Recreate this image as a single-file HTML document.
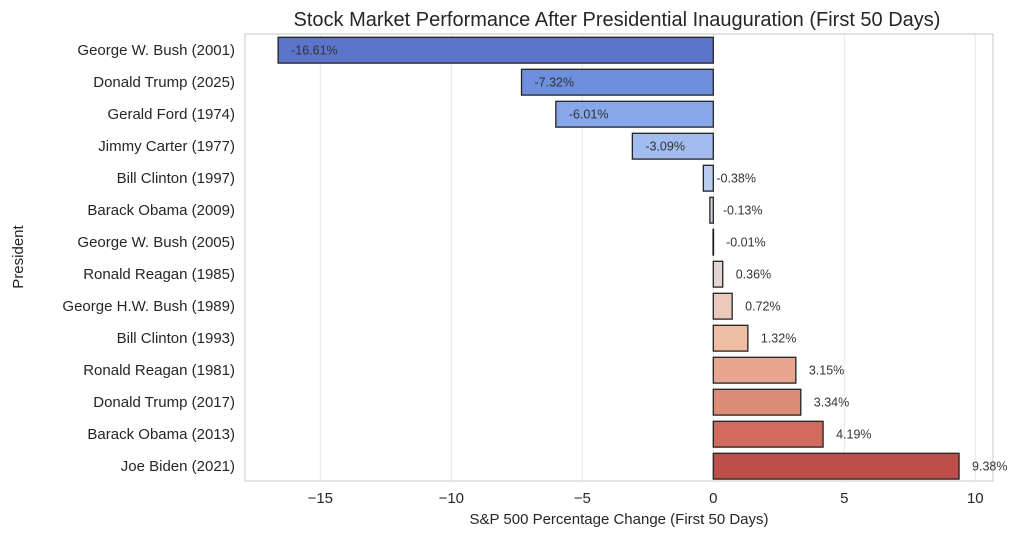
<!DOCTYPE html>
<html><head><meta charset="utf-8"><style>
body{margin:0;background:#fff;}
svg{display:block;font-family:"Liberation Sans","DejaVu Sans",sans-serif;}
</style></head><body>
<svg id="chart" width="1024" height="537" viewBox="0 0 1024 537" xmlns="http://www.w3.org/2000/svg">
<text x="617" y="26" font-size="20" fill="#262626" text-anchor="middle">Stock Market Performance After Presidential Inauguration (First 50 Days)</text>
<g id="grid"></g>
<rect x="245" y="34" width="748" height="447" fill="none" stroke="#d0d0d0" stroke-width="1.2"/>
<g id="bars"></g>
<g id="ylabels"></g>
<g id="xticks"></g>
<text x="619" y="524" font-size="15" fill="#262626" text-anchor="middle">S&amp;P 500 Percentage Change (First 50 Days)</text>
<text transform="translate(23,257) rotate(-90)" font-size="15" fill="#262626" text-anchor="middle">President</text>
</svg>
<script>
const categories=["George W. Bush (2001)","Donald Trump (2025)","Gerald Ford (1974)","Jimmy Carter (1977)","Bill Clinton (1997)","Barack Obama (2009)","George W. Bush (2005)","Ronald Reagan (1985)","George H.W. Bush (1989)","Bill Clinton (1993)","Ronald Reagan (1981)","Donald Trump (2017)","Barack Obama (2013)","Joe Biden (2021)"];
const values=[-16.61,-7.32,-6.01,-3.09,-0.38,-0.13,-0.01,0.36,0.72,1.32,3.15,3.34,4.19,9.38];
const xTicks=[-15,-10,-5,0,5,10];
const colors=["#5d74cb","#6d8fdd","#87a7ea","#a2bcf0","#b9cdef","#cdd6e6","#d9dadd","#e2d6d0","#ebcabc","#efbca4","#e8a690","#dd8c76","#d06b5e","#bd4e4a"];
const NS="http://www.w3.org/2000/svg";
const x=v=>713.3+v*26.2;
const yTop=i=>37.3+i*32.0;
const bh=25.8;
const mk=(t,a,p)=>{const e=document.createElementNS(NS,t);for(const k in a)e.setAttribute(k,a[k]);p.appendChild(e);return e;};
const grid=document.getElementById('grid'),xt=document.getElementById('xticks');
xTicks.forEach(t=>{
  const l=mk('line',{x1:x(t),x2:x(t),y1:34,y2:481,stroke:'#e6e6e6','stroke-width':1},grid);
  
  
  const tx=mk('text',{x:x(t),y:503,'font-size':15,fill:'#262626','text-anchor':'middle'},xt);
  tx.textContent=(t<0?'\u2212'+Math.abs(t):t);
  
  
});
const bars=document.getElementById('bars'),yl=document.getElementById('ylabels');
categories.forEach((c,i)=>{
  const v=values[i];
  const x0=Math.min(x(0),x(v)),w=Math.max(Math.abs(x(v)-x(0)),0.5);
  const r=mk('rect',{x:x0,y:yTop(i),width:w,height:bh,fill:colors[i],stroke:'#222','stroke-width':1.3},bars);
  
  
  const lb=mk('text',{x:x(v)+13,y:yTop(i)+bh/2+4.5,'font-size':12.5,fill:'#333'},bars);
  lb.textContent=v.toFixed(2)+'%';
  
  
  const t=mk('text',{x:235,y:yTop(i)+bh/2+5,'font-size':15,fill:'#262626','text-anchor':'end'},yl);
  t.textContent=c;
  
  
});
</script>
</body></html>
